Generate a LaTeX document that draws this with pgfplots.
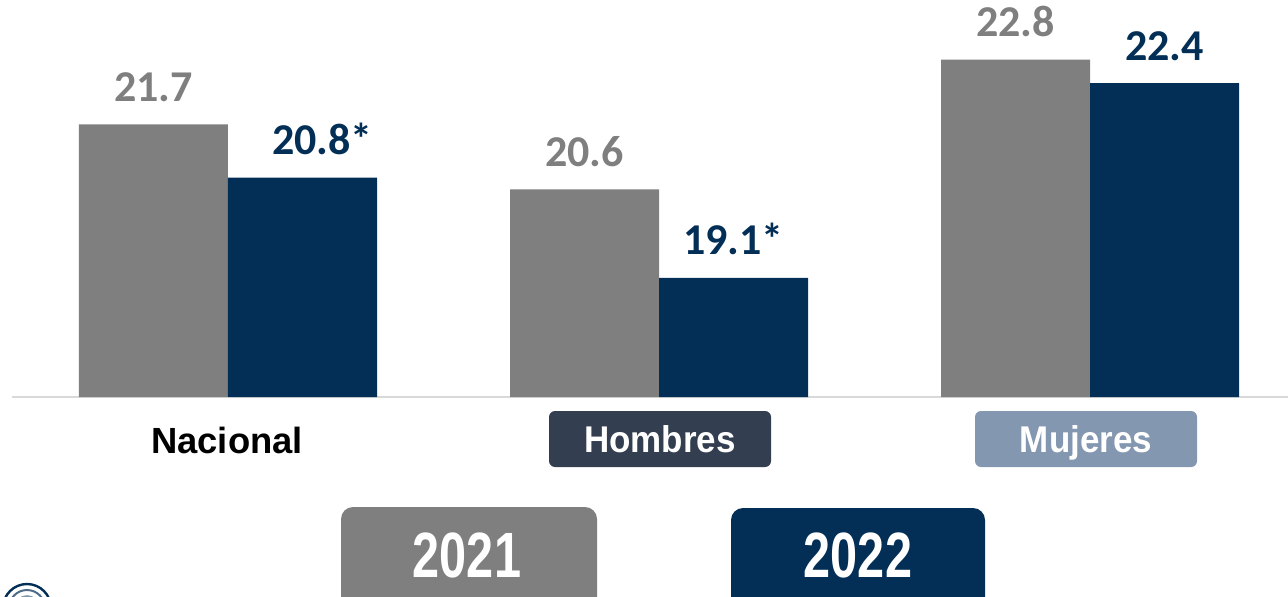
\documentclass[border=0pt]{standalone}
\usepackage{pgfplots}
\pgfplotsset{compat=1.18}
\usepackage{fontspec}
\setmainfont{Liberation Sans}
\newfontfamily\calfont{Carlito}
\newfontfamily\catfont{Liberation Sans}[FakeStretch=0.94]
\newfontfamily\yearfont{Liberation Sans}[FakeStretch=0.76]
\definecolor{cgray}{HTML}{7F7F7F}
\definecolor{cnavy}{HTML}{032F56}
\definecolor{hbox}{HTML}{333F50}
\definecolor{mbox}{HTML}{8497B0}
\definecolor{basecol}{HTML}{D9D9D9}
\begin{document}
\begin{tikzpicture}
\path[use as bounding box] (0,0) rectangle (644pt,298pt);
\clip (0,0) rectangle (644pt,298pt);
\begin{axis}[at={(6pt,99.5pt)}, anchor=south west, scale only axis,
  width=638pt, height=198.5pt,
  xmin=-0.501, xmax=2.459, ymin=17.08, ymax=23.81,
  hide y axis, axis x line*=bottom,
  x axis line style={-, draw=basecol, line width=1.2pt},
  xtick=\empty, ybar, bar width=0.3457,
  point meta=explicit symbolic,
  nodes near coords,
  nodes near coords style={anchor=base, yshift=11.5pt, font=\calfont\bfseries\fontsize{22}{24}\selectfont},
]
\addplot[fill=cgray, draw=none, bar shift=-0.17285, nodes near coords style={text=cgray}]
  coordinates {(0,21.7)[21.7] (1,20.6)[20.6] (2,22.8)[22.8]};
\addplot[fill=cnavy, draw=none, bar shift=0.17285, nodes near coords style={text=cnavy}]
  coordinates {(0,20.8)[\hspace*{20pt}20.8*] (1,19.1)[19.1*] (2,22.4)[22.4]};
\end{axis}
% category labels
\node[font=\bfseries\fontsize{18.2}{20}\selectfont, text height=13pt, text depth=0pt, inner sep=0pt] at (113.5pt,78pt) {Nacional};
\node[fill=hbox, rounded corners=3pt, minimum width=111pt, minimum height=28pt, inner sep=0pt,
  text=white, font=\catfont\bfseries\fontsize{18.6}{20}\selectfont, text height=13.3pt, text depth=0pt] at (330pt,78.5pt) {Hombres};
\node[fill=mbox, rounded corners=3pt, minimum width=111pt, minimum height=28pt, inner sep=0pt,
  text=white, font=\catfont\bfseries\fontsize{18.6}{20}\selectfont, text height=13.3pt, text depth=0pt] at (543pt,78.5pt) {Mujeres};
% legend
\fill[cgray, rounded corners=6pt] (170.5pt,44.5pt) rectangle (298.5pt,-8pt);
\fill[cnavy, rounded corners=6pt] (365.5pt,44pt) rectangle (492.5pt,-8pt);
\node[text=white, font=\yearfont\bfseries\fontsize{32}{34}\selectfont, text height=23pt, text depth=0pt, inner sep=0pt] at (233.5pt,21pt) {2021};
\node[text=white, font=\yearfont\bfseries\fontsize{32}{34}\selectfont, text height=23pt, text depth=0pt, inner sep=0pt] at (429pt,21pt) {2022};
% logo fragment
\draw[cnavy, line width=1.2pt] (13.5pt,-6pt) circle (12pt);
\draw[cnavy!70, line width=1pt] (13.5pt,-6pt) circle (9pt);
\draw[cnavy!50, line width=0.8pt] (13.5pt,-6pt) circle (6pt);
\end{tikzpicture}
\end{document}
